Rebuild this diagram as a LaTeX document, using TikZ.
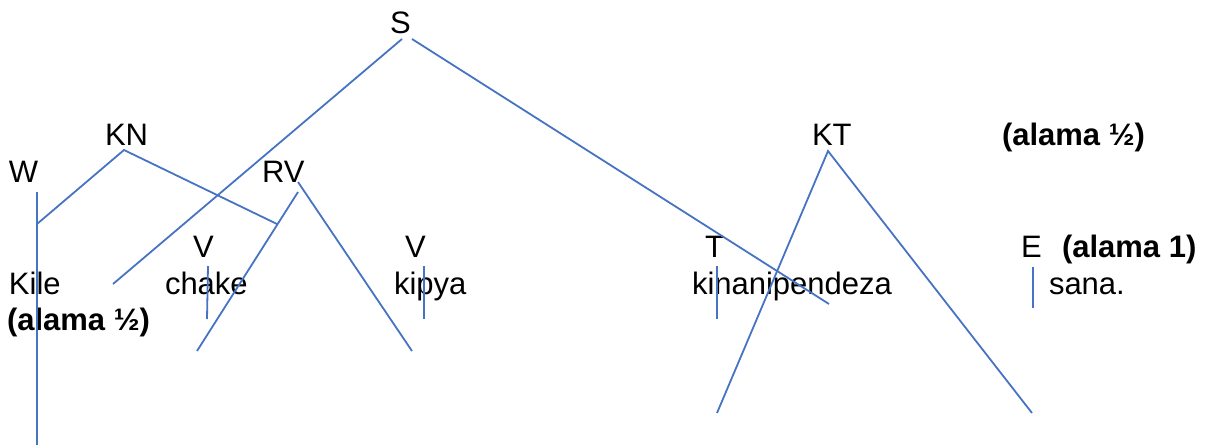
\documentclass[tikz,border=0pt]{standalone}
\usepackage{fontspec}
\setmainfont{Liberation Sans}
\definecolor{lineblue}{HTML}{4673C2}
\begin{document}
\begin{tikzpicture}[x=1pt,y=-1pt,
  lbl/.style={anchor=base west,inner sep=0pt,outer sep=0pt,font=\fontsize{31}{36}\selectfont},
  bld/.style={lbl,font=\fontsize{31}{36}\selectfont\bfseries},
  br/.style={draw=lineblue,line width=1.8pt}]
\useasboundingbox (0,0) rectangle (1211,445);
% labels
\node[lbl] (S) at (390,33) {S};
\node[lbl] (KN) at (105,145) {KN};
\node[lbl] (KT) at (812,145) {KT};
\node[bld] (a1) at (1002,145) {(alama ½)};
\node[lbl] (W) at (9,182) {W};
\node[lbl] (RV) at (262,182) {RV};
\node[lbl] (V1) at (193,257) {V};
\node[lbl] (V2) at (405,257) {V};
\node[lbl] (T) at (705,257) {T};
\node[lbl] (E) at (1021,257) {E};
\node[bld] (a2) at (1062,257) {(alama 1)};
\node[lbl] (w1) at (9,294) {Kile};
\node[lbl] (w2) at (165,294) {chake};
\node[lbl] (w3) at (394,294) {kipya};
\node[lbl] (w4) at (692,294) {kinanipendeza};
\node[lbl] (w5) at (1049,294) {sana.};
\node[bld] (a3) at (7,330) {(alama ½)};
% branch points
\coordinate (s1) at (402,39);  \coordinate (s1e) at (113,284);
\coordinate (s2) at (412,39);  \coordinate (s2e) at (829,304);
\coordinate (kn) at (124,150); \coordinate (kn1) at (37,224); \coordinate (kn2) at (277,224);
\coordinate (wt) at (37,192);  \coordinate (wb) at (37,445);
\coordinate (rv1) at (298,182); \coordinate (rv1e) at (412,351);
\coordinate (rv2) at (298,192); \coordinate (rv2e) at (197,351);
\coordinate (c1) at (208,266); \coordinate (c1e) at (207,319);
\coordinate (c2) at (424,266); \coordinate (c2e) at (424,319);
\coordinate (c3) at (717,266); \coordinate (c3e) at (717,319);
\coordinate (c4) at (1033,267); \coordinate (c4e) at (1033,308);
\coordinate (kt) at (828,151); \coordinate (kt1) at (717,413); \coordinate (kt2) at (1032,413);
% branches
\draw[br] (s1) -- (s1e);
\draw[br] (s2) -- (s2e);
\draw[br] (kn1) -- (kn) -- (kn2);
\draw[br] (wt) -- (wb);
\draw[br] (rv1) -- (rv1e);
\draw[br] (rv2) -- (rv2e);
\draw[br] (c1) -- (c1e);
\draw[br] (c2) -- (c2e);
\draw[br] (c3) -- (c3e);
\draw[br] (c4) -- (c4e);
\draw[br] (kt1) -- (kt) -- (kt2);
\end{tikzpicture}
\end{document}
